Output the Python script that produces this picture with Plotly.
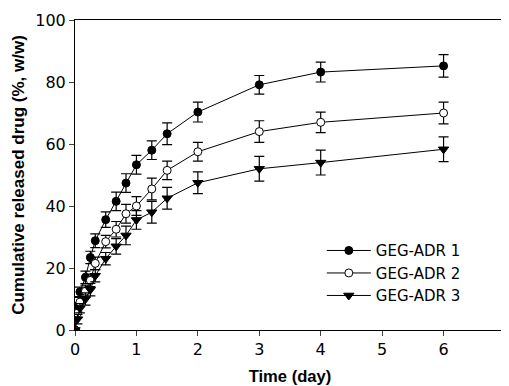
import plotly.graph_objects as go

time_days = [0, 0.04, 0.08, 0.17, 0.25, 0.33, 0.5, 0.67, 0.83, 1.0, 1.25, 1.5, 2, 3, 4, 6]

adr1 = [0, 7.3, 12.3, 17.0, 23.4, 28.8, 35.6, 41.5, 47.4, 53.3, 58.0, 63.3, 70.3, 79.1, 83.2, 85.2]
adr1_err = [0, 1.5, 1.5, 2.0, 2.0, 2.2, 2.5, 3.0, 3.0, 3.0, 3.0, 3.5, 3.2, 3.0, 3.2, 3.6]

adr2 = [0, 5.4, 9.0, 12.5, 16.0, 21.5, 28.5, 32.5, 37.5, 40.0, 45.5, 51.5, 57.5, 64.0, 67.0, 70.0]
adr2_err = [0, 1.5, 1.5, 2.0, 2.0, 2.0, 2.0, 2.5, 3.0, 3.0, 3.5, 3.0, 3.0, 3.5, 3.3, 3.5]

adr3 = [0, 3.5, 7.0, 10.0, 13.0, 17.5, 23.0, 27.0, 30.5, 35.5, 38.0, 42.5, 47.5, 52.0, 54.0, 58.3]
adr3_err = [0, 1.5, 1.5, 2.0, 2.0, 2.0, 2.0, 2.5, 3.0, 3.0, 3.5, 3.5, 3.5, 4.0, 4.0, 4.0]

names = ["GEG-ADR 1", "GEG-ADR 2", "GEG-ADR 3"]
x_ticks = [0, 1, 2, 3, 4, 5, 6, 7]
y_ticks = [0, 20, 40, 60, 80, 100]

FONT = "Liberation Sans, Arial, sans-serif"
WIDE = "DejaVu Sans, sans-serif"

fig = go.Figure()
series = [
    (adr1, adr1_err, dict(symbol="circle", size=8, color="black", line=dict(color="black", width=1))),
    (adr2, adr2_err, dict(symbol="circle", size=8, color="white", line=dict(color="black", width=1))),
    (adr3, adr3_err, dict(symbol="triangle-down", size=9, color="black", line=dict(color="black", width=1))),
]
for name, (ys, errs, mk) in zip(names, series):
    fig.add_trace(go.Scatter(
        x=time_days, y=ys, name=name, mode="lines+markers",
        line=dict(color="black", width=1),
        marker=mk,
        error_y=dict(type="data", array=errs, visible=True, color="black", thickness=1.2, width=5),
    ))

fig.update_layout(
    width=501, height=378,
    margin=dict(l=67, r=4, t=12, b=56, autoexpand=False),
    paper_bgcolor="white", plot_bgcolor="white",
    font=dict(family=FONT, color="black", size=16),
    showlegend=True,
    legend=dict(x=0.574, y=0.309, xanchor="left", yanchor="top",
                bgcolor="rgba(0,0,0,0)", font=dict(size=15, family=WIDE),
                tracegroupgap=0, itemwidth=44),
    xaxis=dict(range=[0, 7], tickvals=x_ticks, ticks="outside", ticklen=5, tickwidth=1,
               showline=True, linecolor="black", linewidth=1, mirror=True, showgrid=False,
               zeroline=False, automargin=False, tickfont=dict(size=16, family=WIDE),
               title=dict(text="<b>Time (day)</b>", font=dict(size=16.6), standoff=18)),
    yaxis=dict(range=[0, 100], tickvals=y_ticks, ticks="outside", ticklen=5, tickwidth=1,
               showline=True, linecolor="black", linewidth=1, mirror=True, showgrid=False,
               zeroline=False, automargin=False, tickfont=dict(size=16, family=WIDE),
               title=dict(text="<b>Cumulative released drug (%, w/w)</b>", font=dict(size=17), standoff=6)),
)

fig.write_html("out.html")
